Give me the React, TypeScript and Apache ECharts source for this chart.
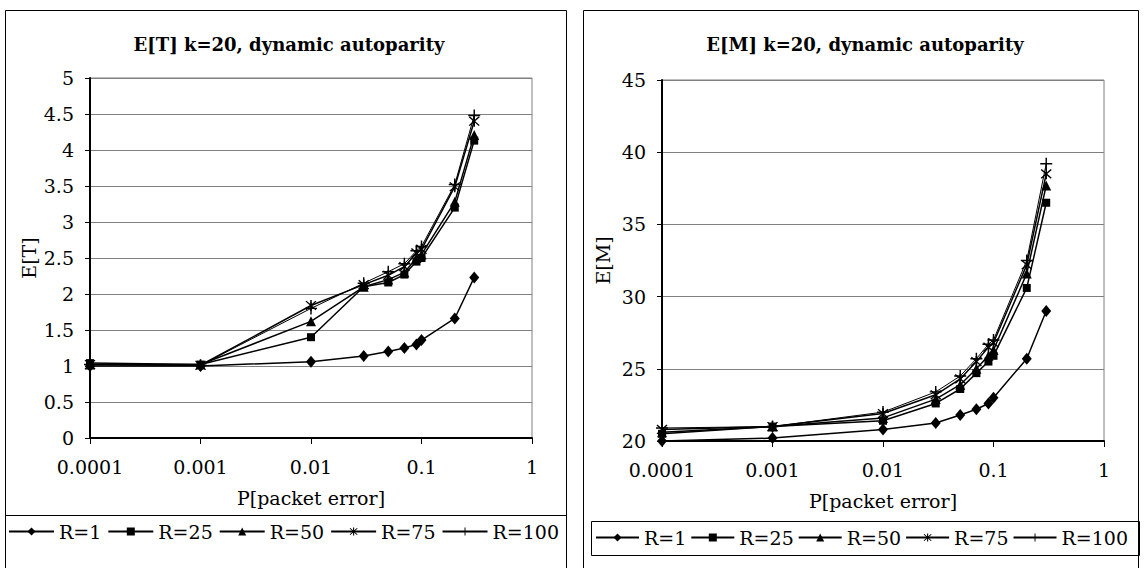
import React, { useEffect, useRef } from "react";
import * as echarts from "echarts";

const xValues = [0.0001, 0.001, 0.01, 0.03, 0.05, 0.07, 0.09, 0.1, 0.2, 0.3];
const seriesNames = ["R=1", "R=25", "R=50", "R=75", "R=100"];

const etR1 = [1.0, 1.0, 1.06, 1.14, 1.2, 1.25, 1.3, 1.36, 1.66, 2.23];
const etR25 = [1.04, 1.02, 1.4, 2.1, 2.16, 2.27, 2.45, 2.5, 3.2, 4.13];
const etR50 = [1.02, 1.02, 1.62, 2.1, 2.2, 2.3, 2.5, 2.55, 3.28, 4.21];
const etR75 = [1.02, 1.01, 1.84, 2.13, 2.26, 2.38, 2.57, 2.62, 3.49, 4.4];
const etR100 = [1.02, 1.01, 1.8, 2.15, 2.31, 2.42, 2.6, 2.66, 3.52, 4.48];

const emR1 = [20.0, 20.2, 20.8, 21.25, 21.8, 22.2, 22.6, 23.0, 25.7, 29.0];
const emR25 = [20.5, 21.0, 21.4, 22.6, 23.6, 24.7, 25.5, 25.9, 30.6, 36.5];
const emR50 = [20.6, 21.0, 21.6, 22.9, 23.9, 25.0, 25.9, 26.3, 31.6, 37.7];
const emR75 = [20.8, 21.0, 21.9, 23.2, 24.3, 25.5, 26.5, 26.8, 32.2, 38.5];
const emR100 = [20.9, 21.0, 22.0, 23.4, 24.5, 25.7, 26.7, 27.0, 32.5, 39.2];

const xTickLabels = ["0.0001", "0.001", "0.01", "0.1", "1"];

const FONT = "DejaVu Serif";
const FS = 19;

const STAR =
  "path://M4.4,0 L5.6,0 L5.6,10 L4.4,10 Z M0.6,1.4 L1.4,0.6 L9.4,8.6 L8.6,9.4 Z M8.6,0.6 L9.4,1.4 L1.4,9.4 L0.6,8.6 Z";
const PLUS =
  "path://M4.4,0 L5.6,0 L5.6,4.4 L10,4.4 L10,5.6 L5.6,5.6 L5.6,10 L4.4,10 L4.4,5.6 L0,5.6 L0,4.4 L4.4,4.4 Z";

const symbols = ["diamond", "rect", "triangle", STAR, PLUS];
const symbolSizes = [[10, 12], 8, 10, 11, 12];
const lineWidths = [1.5, 1.5, 1.5, 1.5, 1];

export default function App() {
  const ref = useRef<HTMLDivElement>(null);
  useEffect(() => {
    if (!ref.current) return;
    const chart = echarts.init(ref.current, null, { renderer: "svg" });
    const etData = [etR1, etR25, etR50, etR75, etR100];
    const emData = [emR1, emR25, emR50, emR75, emR100];
    const mkSeries = (data: number[][], idx: number) =>
      data.map((vals, i) => ({
        type: "line",
        name: seriesNames[i],
        xAxisIndex: idx,
        yAxisIndex: idx,
        data: vals.map((v, j) => [xValues[j], v]),
        symbol: symbols[i],
        symbolSize: symbolSizes[i],
        showAllSymbol: true,
        lineStyle: { color: "#000", width: lineWidths[i] },
        itemStyle: { color: "#000" },
        z: 5 + i,
      }));
    const xAxisCommon = {
      type: "log",
      logBase: 10,
      min: 0.0001,
      max: 1,
      axisLine: { show: true, onZero: false, lineStyle: { color: "#000", width: 2 } },
      axisTick: { show: true, length: 6, lineStyle: { color: "#000", width: 1 } },
      minorTick: { show: false },
      splitLine: { show: false },
      axisLabel: {
        color: "#000",
        fontFamily: FONT,
        fontSize: FS,
        margin: 19,
        formatter: (v: number) => {
          const k = Math.round(-Math.log10(v));
          return xTickLabels[4 - k] ?? String(v);
        },
      },
      name: "P[packet error]",
      nameLocation: "middle",
      nameGap: 50,
      nameTextStyle: { color: "#000", fontFamily: FONT, fontSize: FS },
    };
    const yAxisCommon = {
      type: "value",
      axisLine: { show: true, lineStyle: { color: "#000", width: 2 } },
      axisTick: { show: true, length: 5, lineStyle: { color: "#000", width: 1 } },
      splitLine: { show: true, lineStyle: { color: "#808080", width: 1 } },
      axisLabel: { color: "#000", fontFamily: FONT, fontSize: FS, margin: 16 },
      nameLocation: "middle",
      nameTextStyle: { color: "#000", fontFamily: FONT, fontSize: FS },
    };
    const legendCommon = {
      data: seriesNames,
      orient: "horizontal",
      itemHeight: 10,
      padding: 0,
      width: 700,
      textStyle: { color: "#000", fontFamily: FONT, fontSize: FS },
      selectedMode: false,
    };
    chart.setOption({
      animation: false,
      backgroundColor: "#fff",
      textStyle: { fontFamily: FONT },
      title: [
        {
          text: "E[T] k=20, dynamic autoparity",
          left: 284,
          top: 30,
          textAlign: "center",
          textStyle: { fontFamily: FONT, fontSize: 18, fontWeight: "bold", color: "#000" },
        },
        {
          text: "E[M] k=20, dynamic autoparity",
          left: 860,
          top: 30,
          textAlign: "center",
          textStyle: { fontFamily: FONT, fontSize: 18, fontWeight: "bold", color: "#000" },
        },
      ],
      grid: [
        { left: 90, top: 78, width: 442, height: 360, show: true, borderColor: "#808080", borderWidth: 1, backgroundColor: "transparent" },
        { left: 662, top: 80, width: 442, height: 361, show: true, borderColor: "#808080", borderWidth: 1, backgroundColor: "transparent" },
      ],
      xAxis: [
        { ...xAxisCommon, gridIndex: 0 },
        { ...xAxisCommon, gridIndex: 1 },
      ],
      yAxis: [
        { ...yAxisCommon, gridIndex: 0, min: 0, max: 5, interval: 0.5, name: "E[T]", nameGap: 52 },
        { ...yAxisCommon, gridIndex: 1, min: 20, max: 45, interval: 5, name: "E[M]", nameGap: 50 },
      ],
      legend: [
        { ...legendCommon, left: 8, top: 522, itemWidth: 45, itemGap: 6 },
        { ...legendCommon, left: 595, top: 528, itemWidth: 43, itemGap: 4 },
      ],
      graphic: [
        { type: "rect", shape: { x: 5.5, y: 10.5, width: 561, height: 600 }, style: { fill: "none", stroke: "#000", lineWidth: 1 }, silent: true },
        { type: "line", shape: { x1: 5.5, y1: 515.5, x2: 566.5, y2: 515.5 }, style: { stroke: "#000", lineWidth: 1 }, silent: true },
        { type: "rect", shape: { x: 583.5, y: 10.5, width: 555, height: 600 }, style: { fill: "none", stroke: "#000", lineWidth: 1 }, silent: true },
        { type: "rect", shape: { x: 591.5, y: 521.5, width: 548, height: 34 }, style: { fill: "none", stroke: "#000", lineWidth: 1 }, silent: true },
      ],
      series: [...mkSeries(etData, 0), ...mkSeries(emData, 1)],
    });
    return () => chart.dispose();
  }, []);
  return (
    <div
      ref={ref}
      style={{ position: "absolute", left: 0, top: 0, width: 1145, height: 568 }}
    />
  );
}
